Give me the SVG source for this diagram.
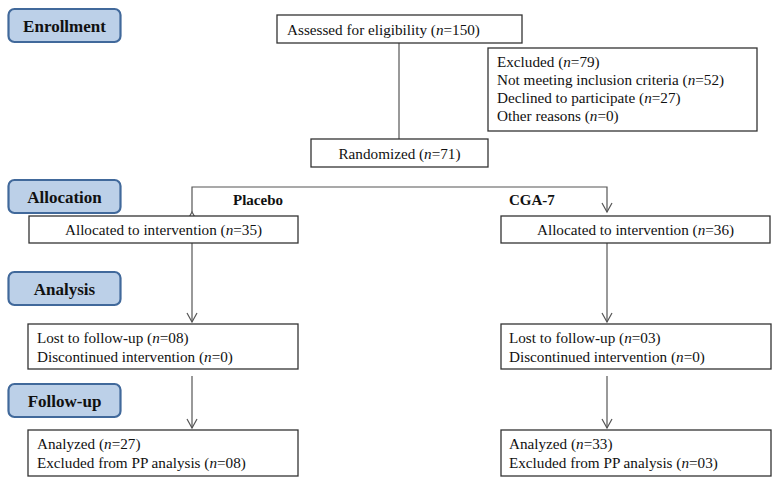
<svg xmlns="http://www.w3.org/2000/svg" width="774" height="479" viewBox="0 0 774 479">
<style>
.box{fill:#fff;stroke:#333;stroke-width:1.3}
.lbl{fill:#bcd0e8;stroke:#41699b;stroke-width:2.2}
.lt{font-family:"Liberation Serif",serif;font-weight:bold;font-size:17px;fill:#111;text-anchor:middle}
.t{font-family:"Liberation Serif",serif;font-size:15.2px;fill:#111}
.arm{font-family:"Liberation Serif",serif;font-weight:bold;font-size:15px;fill:#111}
.c{fill:none;stroke:#555;stroke-width:1.2}
</style>
<defs>
<marker id="ah" viewBox="0 0 12 12" refX="10" refY="6" markerWidth="12" markerHeight="12" markerUnits="userSpaceOnUse" orient="auto">
<path d="M1,1 L10,6 L1,11" fill="none" stroke="#555" stroke-width="1.2"/>
</marker>
</defs>
<rect width="774" height="479" fill="#fff"/>
<g id="label-enrollment"><rect class="lbl" x="8.5" y="9" width="112" height="33" rx="6"/><text class="lt" x="64.5" y="32">Enrollment</text></g>
<g id="label-allocation"><rect class="lbl" x="8.5" y="180" width="112" height="33" rx="6"/><text class="lt" x="64.5" y="203">Allocation</text></g>
<g id="label-analysis"><rect class="lbl" x="8.5" y="272" width="112" height="33" rx="6"/><text class="lt" x="64.5" y="295">Analysis</text></g>
<g id="label-followup"><rect class="lbl" x="8.5" y="384" width="112" height="33" rx="6"/><text class="lt" x="64.5" y="407">Follow-up</text></g>
<g id="connectors">
<line class="c" x1="399" y1="43" x2="399" y2="139"/>
<polyline class="c" points="192,212 192,187 607,187 607,212" marker-start="url(#ah)" marker-end="url(#ah)"/>
<line class="c" x1="192" y1="243" x2="192" y2="322" marker-end="url(#ah)"/>
<line class="c" x1="607" y1="243" x2="607" y2="322" marker-end="url(#ah)"/>
<line class="c" x1="192" y1="376" x2="192" y2="428" marker-end="url(#ah)"/>
<line class="c" x1="607" y1="376" x2="607" y2="428" marker-end="url(#ah)"/>
</g>
<g id="assessed"><rect class="box" x="277" y="15" width="245" height="28"/><text class="t" x="287" y="35">Assessed for eligibility (<tspan font-style="italic">n</tspan>=150)</text></g>
<g id="excluded"><rect class="box" x="488" y="48" width="269" height="83"/>
<text class="t" x="497" y="67">Excluded (<tspan font-style="italic">n</tspan>=79)</text>
<text class="t" x="497" y="85">Not meeting inclusion criteria (<tspan font-style="italic">n</tspan>=52)</text>
<text class="t" x="497" y="103">Declined to participate (<tspan font-style="italic">n</tspan>=27)</text>
<text class="t" x="497" y="121">Other reasons (<tspan font-style="italic">n</tspan>=0)</text></g>
<g id="randomized"><rect class="box" x="311" y="139" width="177" height="28"/><text class="t" x="399.5" y="159" text-anchor="middle">Randomized (<tspan font-style="italic">n</tspan>=71)</text></g>
<g id="arm-placebo"><text class="arm" x="233" y="205">Placebo</text></g>
<g id="arm-cga7"><text class="arm" x="509" y="205">CGA-7</text></g>
<g id="alloc-left"><rect class="box" x="29" y="216" width="269" height="27"/><text class="t" x="163.5" y="235" text-anchor="middle">Allocated to intervention (<tspan font-style="italic">n</tspan>=35)</text></g>
<g id="alloc-right"><rect class="box" x="501" y="216" width="269" height="27"/><text class="t" x="635.5" y="235" text-anchor="middle">Allocated to intervention (<tspan font-style="italic">n</tspan>=36)</text></g>
<g id="lost-left"><rect class="box" x="28" y="324" width="270" height="45"/>
<text class="t" x="37" y="343">Lost to follow-up (<tspan font-style="italic">n</tspan>=08)</text>
<text class="t" x="37" y="362">Discontinued intervention (<tspan font-style="italic">n</tspan>=0)</text></g>
<g id="lost-right"><rect class="box" x="501" y="324" width="270" height="45"/>
<text class="t" x="509" y="343">Lost to follow-up (<tspan font-style="italic">n</tspan>=03)</text>
<text class="t" x="509" y="362">Discontinued intervention (<tspan font-style="italic">n</tspan>=0)</text></g>
<g id="analyzed-left"><rect class="box" x="28" y="430" width="270" height="46"/>
<text class="t" x="37" y="449">Analyzed (<tspan font-style="italic">n</tspan>=27)</text>
<text class="t" x="37" y="468">Excluded from PP analysis (<tspan font-style="italic">n</tspan>=08)</text></g>
<g id="analyzed-right"><rect class="box" x="501" y="430" width="270" height="46"/>
<text class="t" x="509" y="449">Analyzed (<tspan font-style="italic">n</tspan>=33)</text>
<text class="t" x="509" y="468">Excluded from PP analysis (<tspan font-style="italic">n</tspan>=03)</text></g>
</svg>
